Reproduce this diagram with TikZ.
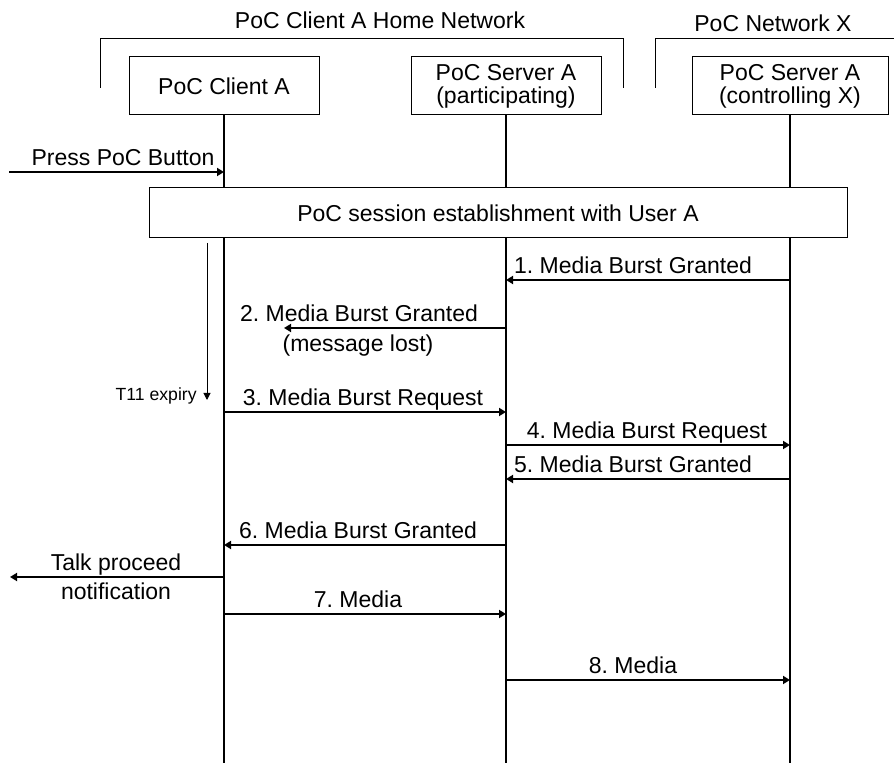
\documentclass[tikz,border=0pt]{standalone}
\usepackage{fontspec}
\setmainfont{Liberation Sans}
\usetikzlibrary{arrows.meta}
\frenchspacing

\begin{document}
\begin{tikzpicture}[x=0.5pt,y=-0.5pt]
            \tikzstyle{every node}+=[inner sep=0pt, font=\fontsize{11.5}{11.5}\selectfont]
            \tikzstyle{entity}=[draw, line width=0.5pt, minimum width=95pt, minimum height=29pt, align=center]
            \tikzstyle{life}=[line width=1pt]
            \tikzstyle{msg}=[line width=1pt, -{Triangle[length=3.5pt,width=4pt]}]
            \tikzstyle{lbl}=[anchor=base]
            \useasboundingbox (0,0) rectangle (894,763);
            % network brackets
            \draw [line width=0.5pt] (100,88) -- (100,39) -- (623,39) -- (623,88);
            \draw [line width=0.5pt] (655,88) -- (655,39) -- (894,39);
            \node (homenet) [lbl] at (380,29) {PoC Client A Home Network};
            \node (netx) [lbl] at (773,32) {PoC Network X};
            % entities and lifelines
            \node (ca) [entity] at (224,86) {PoC Client A};
            \node (sp) [entity] at (506,86) {PoC Server A\\(participating)};
            \node (sc) [entity, minimum width=98pt] at (790,86) {PoC Server A\\(controlling X)};
            \coordinate (caend) at (224,763);
            \coordinate (spend) at (506,763);
            \coordinate (scend) at (790,763);
            \draw [life] (ca) -- (caend);
            \draw [life] (sp) -- (spend);
            \draw [life] (sc) -- (scend);
            % user action
            \coordinate (press) at (9,172);
            \draw [msg] (press) -- (ca |- press);
            \node (presslbl) [lbl] at (123,166) {Press PoC Button};
            \node (sess) [draw, fill=white, line width=0.5pt, minimum width=349pt, minimum height=25pt] at (498,213) {PoC session establishment with User A};
            % timer
            \coordinate (tstart) at (207,243);
            \coordinate (tend) at (207,400);
            \draw [line width=0.5pt, -{Triangle[length=3.5pt,width=3.5pt]}] (tstart) -- (tend);
            \node (tlbl) [anchor=base east, font=\fontsize{8.8}{8.8}\selectfont] at (197,401) {T11 expiry};
            % messages
            \draw [msg] (sc |- 0,280) -- (sp |- 0,280);
            \node (m1) [lbl] at (633,274) {1. Media Burst Granted};
            \coordinate (lost) at (284,328);
            \draw [msg] (sp |- lost) -- (lost);
            \node (m2) [lbl] at (359,322) {2. Media Burst Granted};
            \node (m2b) [lbl] at (358,352) {(message lost)};
            \draw [msg] (ca |- 0,412) -- (sp |- 0,412);
            \node (m3) [lbl] at (363,406) {3. Media Burst Request};
            \draw [msg] (sp |- 0,445) -- (sc |- 0,445);
            \node (m4) [lbl] at (647,439) {4. Media Burst Request};
            \draw [msg] (sc |- 0,479) -- (sp |- 0,479);
            \node (m5) [lbl] at (633,473) {5. Media Burst Granted};
            \draw [msg] (sp |- 0,545) -- (ca |- 0,545);
            \node (m6) [lbl] at (358,539) {6. Media Burst Granted};
            \coordinate (talk) at (10,577);
            \draw [msg] (ca |- talk) -- (talk);
            \node (talklbl) [lbl] at (116,571) {Talk proceed};
            \node (talklbl2) [lbl] at (116,600) {notification};
            \draw [msg] (ca |- 0,614) -- (sp |- 0,614);
            \node (m7) [lbl] at (358,608) {7. Media};
            \draw [msg] (sp |- 0,680) -- (sc |- 0,680);
            \node (m8) [lbl] at (633,674) {8. Media};
        \end{tikzpicture}
\end{document}
